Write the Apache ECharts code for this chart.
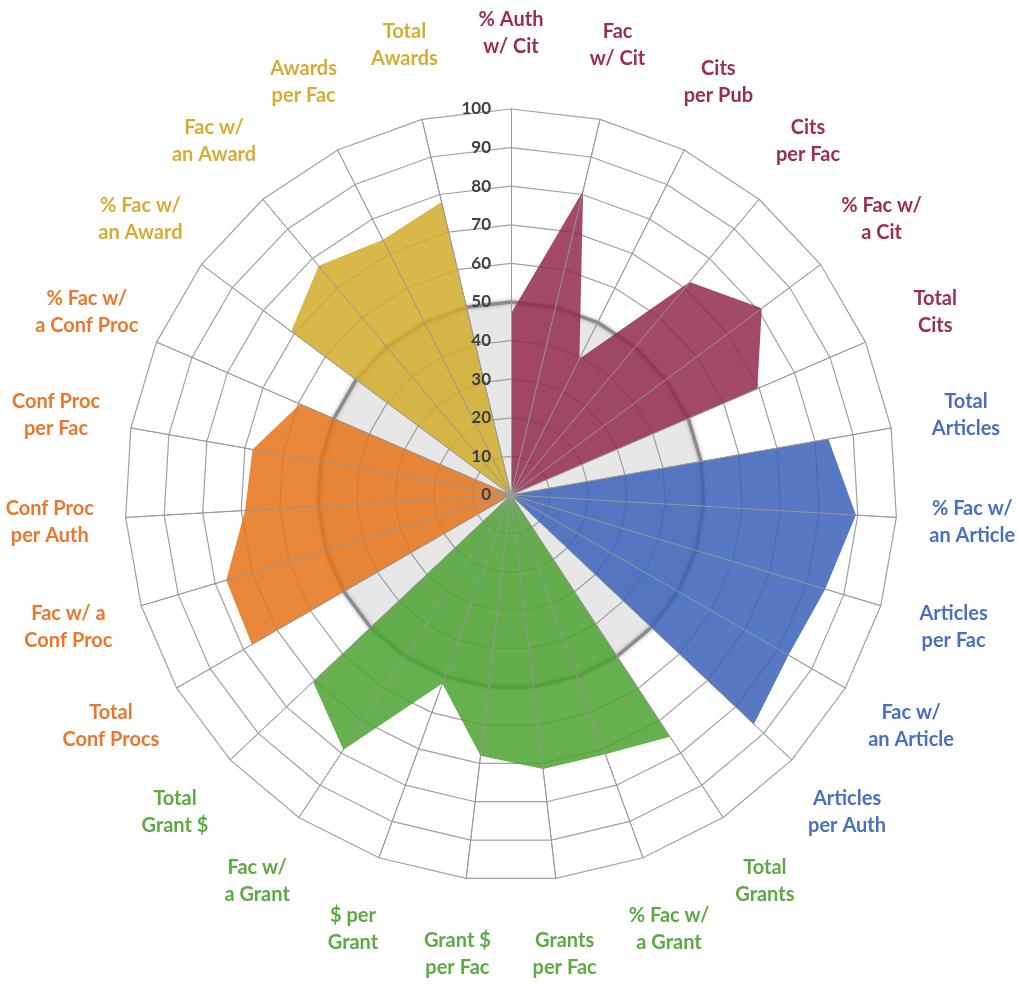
<!DOCTYPE html>
<html>
<head>
<meta charset="utf-8">
<script src="https://cdn.jsdelivr.net/npm/echarts@6/dist/echarts.min.js"></script>
<style>
  html, body { margin: 0; padding: 0; background: #fff; }
  #radar { width: 1018px; height: 987px; }
</style>
</head>
<body>
<div id="radar"></div>
<script>
// categories, clockwise from the top
const categories = [
  '% Auth\nw/ Cit', 'Fac\nw/ Cit', 'Cits\nper Pub', 'Cits\nper Fac', '% Fac w/\na Cit', 'Total\nCits',
  'Total\nArticles', '% Fac w/\nan Article', 'Articles\nper Fac', 'Fac w/\nan Article', 'Articles\nper Auth',
  'Total\nGrants', '% Fac w/\na Grant', 'Grants\nper Fac', 'Grant $\nper Fac', '$ per\nGrant', 'Fac w/\na Grant', 'Total\nGrant $',
  'Total\nConf Procs', 'Fac w/ a\nConf Proc', 'Conf Proc\nper Auth', 'Conf Proc\nper Fac', '% Fac w/\na Conf Proc',
  '% Fac w/\nan Award', 'Fac w/\nan Award', 'Awards\nper Fac', 'Total\nAwards'
]
const tickLabels = [0, 10, 20, 30, 40, 50, 60, 70, 80, 90, 100]

// values per group (start index in categories)
const citValues = [47, 81, 39.5, 72, 81, 69.5]
const articleValues = [83.5, 89.5, 85, 83, 86.5]
const grantValues = [75, 71.5, 71.5, 68, 52, 79, 70.5]
const confValues = [77.5, 77, 69, 68, 59.5]
const awardValues = [71, 77.5, 74, 78]
const baselineValue = 50

const groups = [
  { name: 'Citations', start: 0, values: citValues, color: 'rgba(146,42,78,0.85)', text: '#9B2D55' },
  { name: 'Articles', start: 6, values: articleValues, color: 'rgba(58,96,183,0.85)', text: '#4A6FC0' },
  { name: 'Grants', start: 11, values: grantValues, color: 'rgba(75,162,49,0.85)', text: '#5DAA45' },
  { name: 'Conf Procs', start: 18, values: confValues, color: 'rgba(229,114,23,0.85)', text: '#E9782E' },
  { name: 'Awards', start: 23, values: awardValues, color: 'rgba(210,172,42,0.85)', text: '#D6AD33' }
]

const n = categories.length
// echarts lays out radar axes counter-clockwise, so flip the order after the first one
const order = [0]
for (let i = n - 1; i >= 1; i--) order.push(i)

const textColorFor = (idx) => {
  const g = groups.find((item) => idx >= item.start && idx < item.start + item.values.length)
  return g ? g.text : '#333'
}

const fullRow = (group) => {
  const row = new Array(n).fill(0)
  group.values.forEach((v, i) => { row[group.start + i] = v })
  return row
}

const maxValue = tickLabels[tickLabels.length - 1]

// bottom radar: rings + names
const indicator = order.map((idx) => ({
  name: categories[idx], min: 0, max: maxValue, color: textColorFor(idx)
}))

// top radar: spokes + tick labels, drawn over the fills
const spokeIndicator = order.map((idx, pos) => {
  const item = { name: '', min: 0, max: maxValue }
  if (pos === 0) {
    item.axisLabel = {
      show: true,
      color: '#404040',
      fontSize: 17,
      fontWeight: 'bold',
      fontFamily: 'Lato',
      margin: 20
    }
  }
  return item
})

const data = [
  {
    name: 'Baseline',
    value: order.map(() => baselineValue),
    lineStyle: { color: '#8a8a8a', width: 3.5, shadowBlur: 4, shadowColor: 'rgba(0,0,0,0.35)' },
    areaStyle: { color: 'rgba(150,150,150,0.33)' }
  }
]
groups.forEach((g) => {
  const row = fullRow(g)
  data.push({
    name: g.name,
    value: order.map((idx) => row[idx]),
    lineStyle: { width: 0, opacity: 0 },
    areaStyle: { color: g.color, opacity: 1 }
  })
})

const myChart = echarts.init(document.getElementById('radar'))
const option = {
  animation: false,
  radar: [
    {
      z: 0,
      center: [511, 495],
      radius: 386,
      startAngle: 90,
      shape: 'polygon',
      splitNumber: 10,
      nameGap: 76,
      axisName: {
        fontFamily: 'Lato',
        fontWeight: 'bold',
        fontSize: 20,
        lineHeight: 27,
        align: 'center',
        verticalAlign: 'middle'
      },
      axisLine: { lineStyle: { color: '#a0a0a0', width: 1 } },
      axisTick: { show: false },
      axisLabel: { show: false },
      splitLine: { lineStyle: { color: '#a0a0a0', width: 1.2 } },
      splitArea: { show: false },
      indicator: indicator
    },
    {
      z: 5,
      center: [511, 495],
      radius: 386,
      startAngle: 90,
      shape: 'polygon',
      splitNumber: 10,
      axisName: { show: false },
      axisLine: { lineStyle: { color: '#999', width: 1 } },
      axisTick: { show: false },
      axisLabel: { show: false },
      splitLine: { show: false },
      splitArea: { show: false },
      indicator: spokeIndicator
    }
  ],
  series: [
    {
      type: 'radar',
      radarIndex: 0,
      symbol: 'none',
      silent: true,
      data: data
    }
  ]
}
myChart.setOption(option)
</script>
</body>
</html>
